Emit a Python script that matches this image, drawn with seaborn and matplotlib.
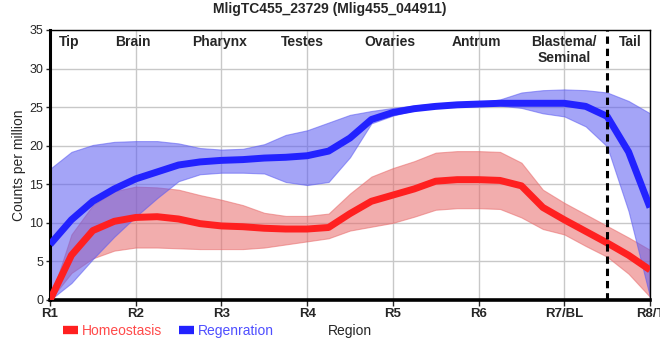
import numpy as np
import pandas as pd
import matplotlib
matplotlib.use("Agg")
import matplotlib.pyplot as plt
import seaborn as sns
from matplotlib.lines import Line2D

# ---------- DATA ----------
POS = [1, 1.25, 1.5, 1.75, 2, 2.25, 2.5, 2.75, 3, 3.25, 3.5, 3.75, 4, 4.25,
       4.5, 4.75, 5, 5.25, 5.5, 5.75, 6, 6.25, 6.5, 6.75, 7, 7.25, 7.5, 7.75, 8]

REG_MEAN = [7.2, 10.4, 12.8, 14.4, 15.7, 16.6, 17.5, 17.9, 18.1, 18.2, 18.4, 18.5,
            18.7, 19.3, 21.0, 23.4, 24.3, 24.8, 25.1, 25.3, 25.4, 25.5, 25.5, 25.5,
            25.5, 25.1, 23.8, 19.2, 12.0]
REG_HI = [17.0, 19.2, 20.1, 20.5, 20.6, 20.6, 20.3, 19.7, 19.5, 19.6, 20.2, 21.4,
          22.0, 23.0, 24.0, 24.5, 24.9, 25.2, 25.5, 25.6, 25.6, 26.0, 26.9, 27.2,
          27.3, 27.2, 26.9, 25.8, 24.2]
REG_LO = [0.0, 2.2, 5.3, 8.2, 10.8, 13.2, 15.4, 16.3, 16.5, 16.5, 16.4, 15.3,
          14.9, 15.3, 18.5, 22.9, 23.9, 24.6, 25.0, 25.2, 25.2, 25.2, 24.9, 24.2,
          23.8, 22.5, 19.9, 11.5, 0.4]

HOM_MEAN = [0.0, 5.8, 9.0, 10.2, 10.7, 10.8, 10.5, 9.9, 9.6, 9.5, 9.3, 9.2,
            9.2, 9.4, 11.2, 12.8, 13.6, 14.4, 15.4, 15.6, 15.6, 15.5, 14.8, 12.0,
            10.4, 8.9, 7.4, 5.8, 3.9]
HOM_HI = [0.0, 8.5, 12.3, 14.1, 14.7, 14.6, 14.3, 13.6, 13.0, 12.3, 11.3, 10.9,
          10.9, 11.2, 13.8, 16.0, 17.1, 18.0, 19.1, 19.3, 19.3, 19.2, 17.8, 14.3,
          12.6, 11.1, 9.6, 8.1, 6.5]
HOM_LO = [0.0, 3.5, 5.4, 6.4, 6.8, 6.8, 6.7, 6.6, 6.6, 6.6, 6.8, 7.2,
          7.6, 8.0, 9.0, 9.5, 10.0, 10.8, 11.7, 11.9, 11.9, 11.8, 10.7, 9.2,
          8.5, 7.0, 5.6, 3.4, 0.4]

TICK_LABELS = ["R1", "R2", "R3", "R4", "R5", "R6", "R7/BL", "R8/T"]
REGIONS = ["Tip", "Brain", "Pharynx", "Testes", "Ovaries", "Antrum", "Blastema/\nSeminal", "Tail"]
REGION_POS = [1.22, 1.97, 2.98, 3.95, 4.97, 5.97, 7.0, 7.77]
SPLIT_POS = 7.5

TITLE = "MligTC455_23729 (Mlig455_044911)"
RED, RED_BAND, RED_TXT = "#ff2020", "#e86a6a", "#ff4a4a"
BLUE, BLUE_BAND, BLUE_TXT = "#2222ff", "#5a5af2", "#4f4fff"

# ---------- PLOT ----------
sns.set_style("white")
plt.rcParams["font.family"] = ["Liberation Sans", "DejaVu Sans"]

df = pd.DataFrame({
    "pos": POS * 2,
    "cpm": HOM_MEAN + REG_MEAN,
    "cond": ["Homeostasis"] * len(POS) + ["Regenration"] * len(POS),
})

fig = plt.figure(figsize=(6.6, 3.6), dpi=100)
ax = fig.add_axes([50 / 660, 60 / 360, 600 / 660, 270 / 360])

ax.fill_between(POS, HOM_LO, HOM_HI, color=RED_BAND, alpha=0.55, lw=0.8,
                edgecolor=RED_BAND, zorder=2)
ax.fill_between(POS, REG_LO, REG_HI, color=BLUE_BAND, alpha=0.55, lw=0.8,
                edgecolor=BLUE_BAND, zorder=2)

sns.lineplot(data=df, x="pos", y="cpm", hue="cond",
             palette={"Homeostasis": RED, "Regenration": BLUE},
             linewidth=5, legend=False, ax=ax, zorder=3,
             solid_joinstyle="round", solid_capstyle="butt")

ax.axvline(SPLIT_POS, color="black", lw=2.2, ls=(0, (2.4, 1.6)), zorder=4)

ax.set_xlim(1, 8)
ax.set_ylim(0, 35)
ax.set_xticks(range(1, 9))
ax.set_xticklabels(TICK_LABELS, fontweight="bold", fontsize=9.5)
ax.set_yticks(range(0, 36, 5))
ax.tick_params(axis="y", labelsize=9, length=3, width=1, pad=2, left=True)
ax.tick_params(axis="x", length=4, width=1, pad=2, bottom=True)
ax.grid(True, color="#c8c8c8", lw=1)
ax.set_axisbelow(True)

for side in ["top", "right"]:
    ax.spines[side].set_linewidth(1.0)
    ax.spines[side].set_color("black")
ax.spines["left"].set_linewidth(2.2)
ax.spines["bottom"].set_linewidth(2.6)
ax.spines["left"].set_color("black")
ax.spines["bottom"].set_color("black")

for name, x in zip(REGIONS, REGION_POS):
    ax.text(x, 34.3, name, ha="center", va="top", fontsize=10,
            fontweight="bold", linespacing=1.1, zorder=5)

ax.set_ylabel("Counts per million", fontsize=10, labelpad=2)
ax.set_xlabel("Region", fontsize=10, labelpad=3)
fig.suptitle(TITLE, x=0.5, y=0.995, fontsize=10, fontweight="bold")

handles = [Line2D([], [], color=RED, lw=6, solid_capstyle="butt"),
           Line2D([], [], color=BLUE, lw=6, solid_capstyle="butt")]
fig.legend(handles, ["Homeostasis", "Regenration"], loc="center left",
           bbox_to_anchor=(50 / 660, 1 - 331 / 360), ncol=2, frameon=False,
           fontsize=10, handlelength=1.1, handletextpad=0.3, columnspacing=1.2,
           labelcolor=[RED_TXT, BLUE_TXT])

fig.savefig("out.png", dpi=100)
